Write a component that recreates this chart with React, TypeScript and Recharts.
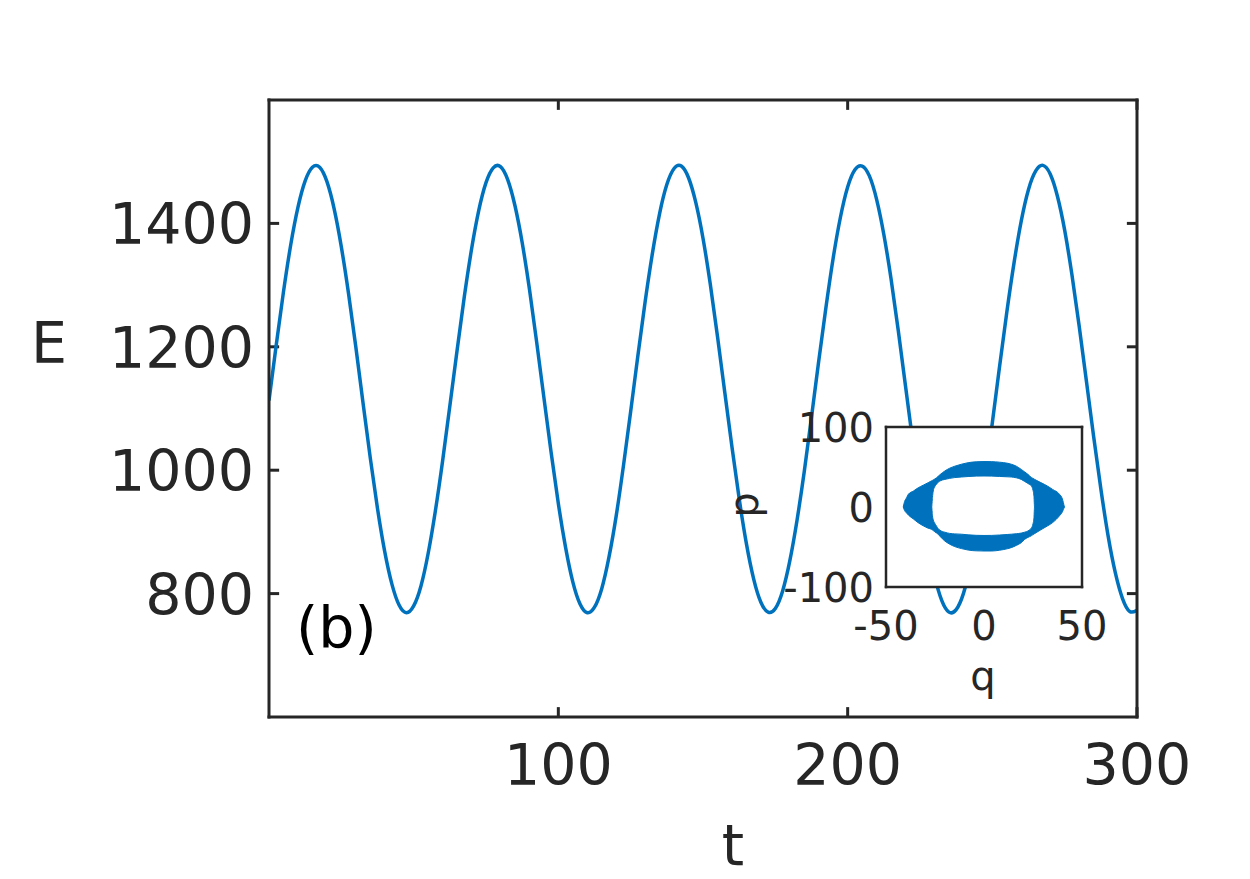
import React from 'react'
import { LineChart, Line, XAxis, YAxis, ComposedChart, Area, CartesianGrid, ReferenceLine, Customized } from 'recharts'

const AXIS = '#262626'
const BLUE = '#0072BD'
const FONT = '"DejaVu Sans", sans-serif'

// main panel: energy E against time t
const tVals = [
  0, 2.5, 5, 7.5, 10, 12.5, 15, 17.5, 20, 22.5, 25, 27.5, 30, 32.5, 35, 37.5, 40, 42.5, 45, 47.5,
  50, 52.5, 55, 57.5, 60, 62.5, 65, 67.5, 70, 72.5, 75, 77.5, 80, 82.5, 85, 87.5, 90, 92.5, 95, 97.5,
  100, 102.5, 105, 107.5, 110, 112.5, 115, 117.5, 120, 122.5, 125, 127.5, 130, 132.5, 135, 137.5, 140, 142.5, 145, 147.5,
  150, 152.5, 155, 157.5, 160, 162.5, 165, 167.5, 170, 172.5, 175, 177.5, 180, 182.5, 185, 187.5, 190, 192.5, 195, 197.5,
  200, 202.5, 205, 207.5, 210, 212.5, 215, 217.5, 220, 222.5, 225, 227.5, 230, 232.5, 235, 237.5, 240, 242.5, 245, 247.5,
  250, 252.5, 255, 257.5, 260, 262.5, 265, 267.5, 270, 272.5, 275, 277.5, 280, 282.5, 285, 287.5, 290, 292.5, 295, 297.5,
  300,
]
const eVals = [
  1113, 1203, 1289, 1365, 1426, 1469, 1491, 1491, 1468, 1424, 1362, 1286, 1200, 1109, 1020, 938, 868, 815, 781, 769,
  780, 812, 865, 934, 1015, 1104, 1194, 1281, 1358, 1421, 1466, 1490, 1492, 1471, 1429, 1369, 1294, 1208, 1118, 1029,
  946, 875, 819, 783, 769, 778, 808, 859, 926, 1007, 1095, 1186, 1273, 1351, 1416, 1463, 1489, 1493, 1474, 1434,
  1376, 1302, 1217, 1127, 1038, 954, 881, 824, 786, 770, 776, 804, 853, 919, 998, 1086, 1177, 1264, 1344, 1410,
  1459, 1487, 1493, 1477, 1439, 1382, 1310, 1226, 1136, 1046, 962, 888, 829, 789, 770, 774, 800, 847, 912, 990,
  1077, 1168, 1256, 1336, 1404, 1455, 1485, 1494, 1480, 1444, 1389, 1317, 1234, 1145, 1055, 970, 894, 834, 792, 771,
  773,
]
const tTicks = [100, 200, 300]
const eTicks = [800, 1000, 1200, 1400]

// inset: phase-space band p against q (upper and lower halves of the ring)
const qVals = [
  -41.2, -40.5, -39.5, -38.6, -36, -33.6, -31, -28.5, -26.7, -26.3, -25.9, -25.2, -24.2, -23.4, -22.5, -20, -17.5, -14.9, -11.5, -8.1,
  -4, 0, 4, 8, 12.2, 13.9, 16.5, 19, 20.7, 22.4, 23.3, 24.1, 25, 25.5, 25.8, 27, 29, 32.5, 35, 38.5,
  40, 41,
]
const pOuterTop = [
  0, 7, 11.5, 15.9, 20, 24, 27.3, 30.4, 32.8, 33.3, 33.9, 34.9, 36.6, 38.3, 40.3, 45, 48.5, 51, 53.5, 55.4,
  56.5, 56.8, 56.7, 56, 54.6, 53.5, 51, 47, 44, 40.8, 38.8, 37, 35.7, 35.1, 34.6, 33, 30.5, 26, 22, 15.9,
  10, 0,
]
const pInnerTop = [
  0, 0, 0, 0, 0, 0, 0, 0, 0, 12, 20, 25, 28.5, 31, 32.5, 34.5, 35.8, 36.8, 37.5, 38.1,
  38.6, 38.75, 38.6, 38.2, 37.7, 37.5, 36.5, 34.5, 32, 29.5, 28, 26.5, 21, 13, 0, 0, 0, 0, 0, 0,
  0, 0,
]
const pInnerBot = [
  0, 0, 0, 0, 0, 0, 0, 0, 0, -11, -16, -20, -24, -27, -29, -31.5, -33, -33.6, -34, -34.8,
  -35.4, -35.6, -35.5, -35, -34.3, -34, -33.4, -32.6, -31.5, -30, -28.5, -26.5, -21, -13, 0, 0, 0, 0, 0, 0,
  0, 0,
]
const pOuterBot = [
  0, -4.5, -7.5, -10, -15, -19.6, -23.5, -26.5, -28, -28.7, -29.5, -30.8, -32.5, -34, -36.5, -42.5, -46.5, -49.5, -52, -53.8,
  -54.8, -55, -55, -54, -52, -50.8, -48, -44.6, -40.5, -38, -37, -36, -34.5, -33.8, -33.3, -31.5, -28.5, -23.5, -19.5, -11,
  -6, 0,
]
const qTicks = [-50, 0, 50]
const pTicks = [-100, 0, 100]

const mainData = tVals.map((t, i) => ({ t, E: eVals[i] }))
const insetData = qVals.map((q, i) => ({
  q,
  upper: [pInnerTop[i], pOuterTop[i]],
  lower: [pOuterBot[i], pInnerBot[i]],
}))

// inward tick marks, about 10px long, expressed in axis units
const T_TICK = 3.5
const E_TICK = 16

const frame = { stroke: AXIS, strokeWidth: 3, strokeLinecap: 'square' as const }
const insetFrame = { stroke: AXIS, strokeWidth: 2.5, strokeLinecap: 'square' as const }

function BottomTick({ x, y, payload }: any) {
  return (
    <text x={x} y={y + 68} textAnchor="middle" fontSize={57} fontFamily={FONT} fill={AXIS}>{payload.value}</text>
  )
}

function LeftTick({ x, y, payload }: any) {
  return (
    <text x={x - 15} y={y + 21} textAnchor="end" fontSize={57} fontFamily={FONT} fill={AXIS}>{payload.value}</text>
  )
}

function InsetBottomTick({ x, y, payload }: any) {
  return (
    <text x={x} y={y + 53} textAnchor="middle" fontSize={40} fontFamily={FONT} fill={AXIS}>{payload.value}</text>
  )
}

function InsetLeftTick({ x, y, payload }: any) {
  return (
    <text x={x - 12} y={y + 14.5} textAnchor="end" fontSize={40} fontFamily={FONT} fill={AXIS}>{payload.value}</text>
  )
}

function MainLabels() {
  return (
    <g fontFamily={FONT} fontSize={57}>
      <text x={49} y={363} textAnchor="middle" fill={AXIS}>E</text>
      <text x={733} y={865} textAnchor="middle" fill={AXIS}>t</text>
      <text x={296} y={647} fill="#000">(b)</text>
    </g>
  )
}

function InsetLabels() {
  return (
    <g fontFamily={FONT} fontSize={40} fill={AXIS}>
      <text x={283} y={290} textAnchor="middle">q</text>
      <text x={58} y={105} textAnchor="middle" transform="rotate(-90 58 105)">p</text>
    </g>
  )
}

export default function App() {
  return (
    <div style={{ position: 'absolute', left: 0, top: 0, width: 1250, height: 879, background: '#fff' }}>
      <LineChart width={1250} height={879} data={mainData} margin={{ top: 99, right: 112, bottom: 0, left: 0 }}>
        <XAxis
          dataKey="t" type="number" domain={[0, 300]} ticks={tTicks} interval={0} allowDataOverflow
          height={162} axisLine={frame} tickLine={false} tickSize={0} tickMargin={0} tick={BottomTick}
        />
        <XAxis
          xAxisId="top" orientation="top" dataKey="t" type="number" domain={[0, 300]} allowDataOverflow
          height={1} axisLine={frame} tickLine={false} tick={false}
        />
        <YAxis
          type="number" domain={[600, 1600]} ticks={eTicks} interval={0} allowDataOverflow
          width={269} axisLine={frame} tickLine={false} tickSize={0} tickMargin={0} tick={LeftTick}
        />
        <YAxis
          yAxisId="right" orientation="right" dataKey="E" type="number" domain={[600, 1600]} allowDataOverflow
          width={1} axisLine={frame} tickLine={false} tick={false}
        />
        {tTicks.map((t) => (
          <ReferenceLine key={`b${t}`} segment={[{ x: t, y: 600 }, { x: t, y: 600 + E_TICK }]} stroke={AXIS} strokeWidth={3} ifOverflow="visible" />
        ))}
        {tTicks.map((t) => (
          <ReferenceLine key={`t${t}`} segment={[{ x: t, y: 1600 }, { x: t, y: 1600 - E_TICK }]} stroke={AXIS} strokeWidth={3} ifOverflow="visible" />
        ))}
        {eTicks.map((e) => (
          <ReferenceLine key={`l${e}`} segment={[{ x: 0, y: e }, { x: T_TICK, y: e }]} stroke={AXIS} strokeWidth={3} ifOverflow="visible" />
        ))}
        {eTicks.map((e) => (
          <ReferenceLine key={`r${e}`} segment={[{ x: 300, y: e }, { x: 300 - T_TICK, y: e }]} stroke={AXIS} strokeWidth={3} ifOverflow="visible" />
        ))}
        <Line type="natural" dataKey="E" stroke={BLUE} strokeWidth={3.5} dot={false} activeDot={false} isAnimationActive={false} />
        <Customized component={MainLabels} />
      </LineChart>

      <div style={{ position: 'absolute', left: 700, top: 400, width: 420, height: 320 }}>
        <ComposedChart width={420} height={320} data={insetData} margin={{ top: 26, right: 37, bottom: 0, left: 0 }}>
          <CartesianGrid horizontal={false} vertical={false} fill="#fff" fillOpacity={1} stroke="none" />
          <XAxis
            dataKey="q" type="number" domain={[-50, 50]} ticks={qTicks} interval={0}
            height={133} axisLine={insetFrame} tickLine={false} tickSize={0} tickMargin={0} tick={InsetBottomTick}
          />
          <XAxis
            xAxisId="top" orientation="top" dataKey="q" type="number" domain={[-50, 50]}
            height={1} axisLine={insetFrame} tickLine={false} tick={false}
          />
          <YAxis
            type="number" domain={[-100, 100]} ticks={pTicks} interval={0}
            width={186} axisLine={insetFrame} tickLine={false} tickSize={0} tickMargin={0} tick={InsetLeftTick}
          />
          <YAxis
            yAxisId="right" orientation="right" type="number" domain={[-100, 100]}
            width={1} axisLine={insetFrame} tickLine={false} tick={false}
          />
          <Area type="monotone" dataKey="upper" stroke={BLUE} strokeWidth={1} fill={BLUE} fillOpacity={1} dot={false} activeDot={false} isAnimationActive={false} />
          <Area type="monotone" dataKey="lower" stroke={BLUE} strokeWidth={1} fill={BLUE} fillOpacity={1} dot={false} activeDot={false} isAnimationActive={false} />
          <Customized component={InsetLabels} />
        </ComposedChart>
      </div>
    </div>
  )
}
